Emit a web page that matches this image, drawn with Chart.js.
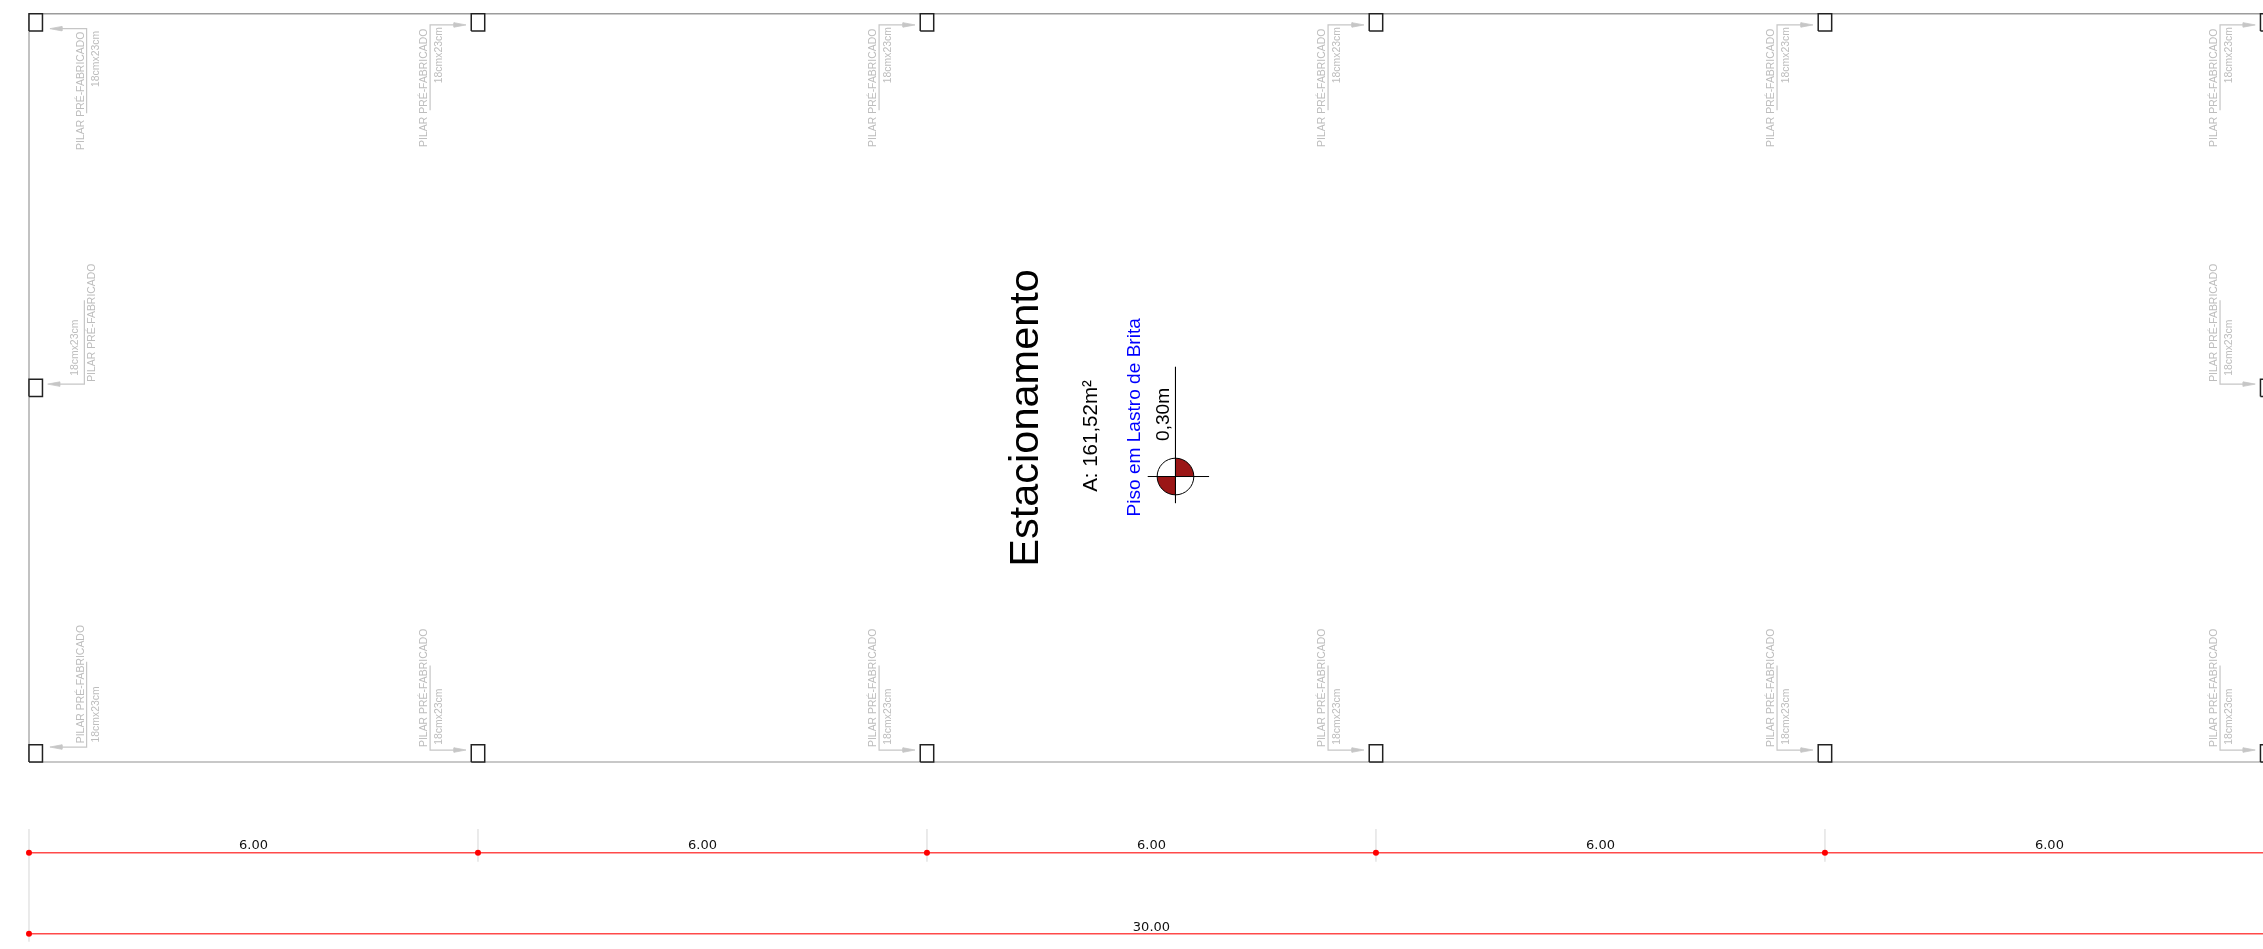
<!DOCTYPE html>
<html lang="pt">
<head>
<meta charset="utf-8">
<title>Estacionamento</title>
<script src="https://cdn.jsdelivr.net/npm/chart.js@4"></script>
<style>
  html, body { margin: 0; padding: 0; background: #fff; overflow: hidden; }
  canvas { display: block; }
</style>
</head>
<body>
<canvas id="planta" width="2263" height="949"></canvas>
<script>
const spanLabels = ['6.00', '6.00', '6.00', '6.00', '6.00'];
const spanCenters = [3, 9, 15, 21, 27];
const gridX = [0, 6, 12, 18, 24, 30];
const totalLabel = '30.00';
const totalCenter = 15;

const columnLeft = [0, 5.91, 11.91, 17.91, 23.91, 29.82];
const columnBottomTop = 9.77;
const columnBottomBase = 0;
const sideColumnLeft = [0, 29.82];
const sideColumnBottom = 4.885;
const columnW = 0.18;
const columnH = 0.23;

// Chamadas dos pilares
const leaderX = [0.77, 5.36, 11.36, 17.36, 23.36, 29.28];
const arrowTipX = [0.28, 5.84, 11.84, 17.84, 23.84, 29.75];
const arrowBackX = [0.44, 5.68, 11.68, 17.68, 23.68, 29.59];
const nameX = [0.69, 5.275, 11.275, 17.275, 23.275, 29.20];
const sizeX = [0.895, 5.48, 11.48, 17.48, 23.48, 29.40];

const topArrowY = [9.80, 9.85, 9.85, 9.85, 9.85, 9.85];
const topEndY = [8.67, 8.71, 8.71, 8.71, 8.71, 8.71];
const topNameY = [8.18, 8.22, 8.22, 8.22, 8.22, 8.22];
const topSizeY = [9.02, 9.07, 9.07, 9.07, 9.07, 9.07];

const bottomArrowY = [0.20, 0.16, 0.16, 0.16, 0.16, 0.16];
const bottomEndY = [1.34, 1.29, 1.29, 1.29, 1.29, 1.29];
const bottomNameY = [0.25, 0.20, 0.20, 0.20, 0.20, 0.20];
const bottomSizeY = [0.26, 0.23, 0.23, 0.23, 0.23, 0.23];

const sideLeaderX = [0.74, 29.28];
const sideTipX = [0.25, 29.75];
const sideBackX = [0.41, 29.59];
const sideNameX = [0.85, 29.20];
const sideSizeX = [0.62, 29.40];
const sideArrowY = 5.05;
const sideEndY = 6.17;
const sideNameY = 5.08;
const sideSizeY = 5.16;

const pillarName = 'PILAR PRÉ-FABRICADO';
const pillarSize = '18cmx23cm';

const GREY = '#c6c6c6';
const TEXT_GREY = '#bdbdbd';
const datasets = [];

function addLine(points, color, width, order, fillColor) {
  datasets.push({
    data: points,
    borderColor: color,
    borderWidth: width,
    pointRadius: 0,
    tension: 0,
    order: order,
    clip: false,
    fill: fillColor ? 'shape' : false,
    backgroundColor: fillColor || 'transparent'
  });
}

// Paredes
addLine([{x: 0, y: 10}, {x: 30, y: 10}], '#9c9c9c', 1.5, 10);
addLine([{x: 0, y: 10}, {x: 0, y: 0}], '#c2c2c2', 2, 10);
addLine([{x: 0, y: 0}, {x: 30, y: 0}], '#c8c8c8', 2, 10);

// Pilares
function addColumn(left, bottom) {
  addLine([
    {x: left, y: bottom},
    {x: left + columnW, y: bottom},
    {x: left + columnW, y: bottom + columnH},
    {x: left, y: bottom + columnH},
    {x: left, y: bottom}
  ], '#222222', 1.5, 5, '#ffffff');
}
columnLeft.forEach(left => {
  addColumn(left, columnBottomTop);
  addColumn(left, columnBottomBase);
});
sideColumnLeft.forEach(left => addColumn(left, sideColumnBottom));

// Chamadas
function addLeader(lx, tip, back, ay, ey) {
  addLine([{x: lx, y: ey}, {x: lx, y: ay}, {x: back, y: ay}], GREY, 1.2, 8);
  addLine([
    {x: tip, y: ay},
    {x: back, y: ay + 0.03},
    {x: back, y: ay - 0.03},
    {x: tip, y: ay}
  ], GREY, 0.8, 8, GREY);
}
leaderX.forEach((lx, i) => {
  addLeader(lx, arrowTipX[i], arrowBackX[i], topArrowY[i], topEndY[i]);
  addLeader(lx, arrowTipX[i], arrowBackX[i], bottomArrowY[i], bottomEndY[i]);
});
sideLeaderX.forEach((lx, i) => {
  addLeader(lx, sideTipX[i], sideBackX[i], sideArrowY, sideEndY);
});

// Cotas
const dimY1 = -1.212;
const dimY2 = -2.295;
gridX.forEach((gx, i) => {
  const bottom = (i === 0 || i === gridX.length - 1) ? -2.401 : -1.332;
  addLine([{x: gx, y: -0.895}, {x: gx, y: bottom}], '#e4e4e4', 1.5, 9);
});
datasets.push({
  data: gridX.map(gx => ({x: gx, y: dimY1})),
  borderColor: '#ff4a4a', borderWidth: 1.5, tension: 0, order: 2,
  pointRadius: 3, pointBackgroundColor: '#ff0000', pointBorderWidth: 0, fill: false
});
datasets.push({
  data: [{x: 0, y: dimY2}, {x: 30, y: dimY2}],
  borderColor: '#ff4a4a', borderWidth: 1.5, tension: 0, order: 2,
  pointRadius: 3, pointBackgroundColor: '#ff0000', pointBorderWidth: 0, fill: false
});

// Simbolo de nivel
const levelX = 15.321;
const levelY = 3.815;
const levelR = 0.245;
addLine([{x: levelX, y: 5.28}, {x: levelX, y: 3.46}], '#000000', 1, 1);
addLine([{x: 14.95, y: levelY}, {x: 15.77, y: levelY}], '#000000', 1, 1);

const planText = {
  id: 'planText',
  beforeDatasetsDraw(chart) {
    const {ctx, scales: {x, y}} = chart;
    const px = x.getPixelForValue(levelX);
    const py = y.getPixelForValue(levelY);
    const r = x.getPixelForValue(levelX + levelR) - px;
    ctx.save();
    ctx.fillStyle = '#ffffff';
    ctx.beginPath();
    ctx.arc(px, py, r, 0, Math.PI * 2);
    ctx.fill();
    ctx.fillStyle = '#9b1616';
    [[-Math.PI / 2, 0], [Math.PI / 2, Math.PI]].forEach(([a, b]) => {
      ctx.beginPath();
      ctx.moveTo(px, py);
      ctx.arc(px, py, r, a, b);
      ctx.closePath();
      ctx.fill();
    });
    ctx.strokeStyle = '#000000';
    ctx.lineWidth = 1;
    ctx.beginPath();
    ctx.arc(px, py, r, 0, Math.PI * 2);
    ctx.stroke();
    ctx.restore();
  },
  afterDatasetsDraw(chart) {
    const {ctx, scales: {x, y}} = chart;

    const vertical = (text, vx, vy, font, color) => {
      ctx.save();
      ctx.translate(x.getPixelForValue(vx), y.getPixelForValue(vy));
      ctx.rotate(-Math.PI / 2);
      ctx.font = font;
      ctx.fillStyle = color;
      ctx.textAlign = 'left';
      ctx.textBaseline = 'middle';
      ctx.fillText(text, 0, 0);
      ctx.restore();
    };
    const smallFont = '10.45px "Liberation Sans"';

    leaderX.forEach((_, i) => {
      vertical(pillarName, nameX[i], topNameY[i], smallFont, TEXT_GREY);
      vertical(pillarSize, sizeX[i], topSizeY[i], smallFont, TEXT_GREY);
      vertical(pillarName, nameX[i], bottomNameY[i], smallFont, TEXT_GREY);
      vertical(pillarSize, sizeX[i], bottomSizeY[i], smallFont, TEXT_GREY);
    });
    sideLeaderX.forEach((_, i) => {
      vertical(pillarName, sideNameX[i], sideNameY, smallFont, TEXT_GREY);
      vertical(pillarSize, sideSizeX[i], sideSizeY, smallFont, TEXT_GREY);
    });

    vertical('Estacionamento', 13.335, 2.61, '41.5px "Liberation Sans"', '#000000');
    vertical('A: 161,52m²', 14.19, 3.61, '20.5px "Liberation Sans"', '#000000');
    vertical('Piso em Lastro de Brita', 14.77, 3.28, '19.1px "Liberation Sans"', '#0000ff');
    vertical('0,30m', 15.17, 4.29, '19.1px "Liberation Sans"', '#000000');

    ctx.save();
    ctx.font = '13px "DejaVu Sans"';
    ctx.fillStyle = '#111111';
    ctx.textAlign = 'center';
    ctx.textBaseline = 'middle';
    spanLabels.forEach((label, i) => {
      ctx.fillText(label, x.getPixelForValue(spanCenters[i]), y.getPixelForValue(-1.12));
    });
    ctx.fillText(totalLabel, x.getPixelForValue(totalCenter), y.getPixelForValue(-2.21));
    ctx.restore();
  }
};

new Chart(document.getElementById('planta').getContext('2d'), {
  type: 'line',
  data: { datasets: datasets },
  options: {
    responsive: false,
    animation: false,
    devicePixelRatio: 1,
    layout: { padding: 0, autoPadding: false },
    plugins: { legend: { display: false }, tooltip: { enabled: false } },
    scales: {
      x: { type: 'linear', display: false, min: -0.3875, max: 29.854 },
      y: { type: 'linear', display: false, min: -2.499, max: 10.183 }
    }
  },
  plugins: [planText]
});
</script>
</body>
</html>
